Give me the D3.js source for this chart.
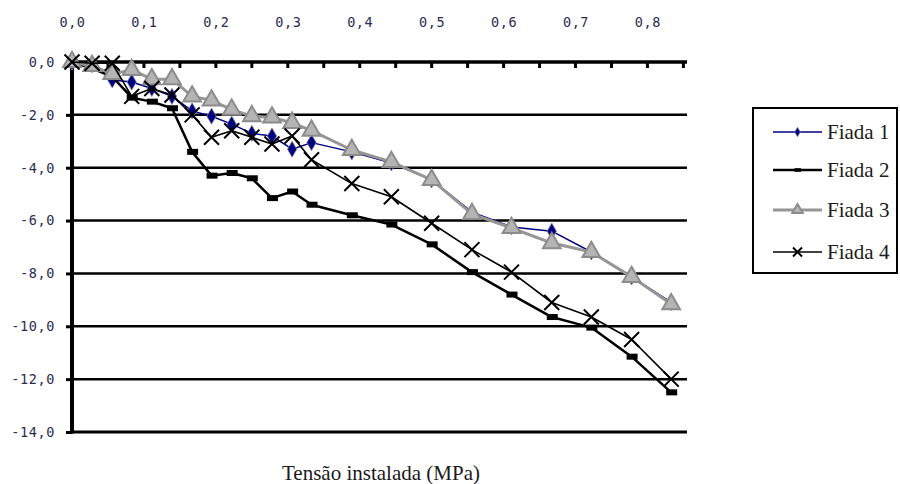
<!DOCTYPE html>
<html>
<head>
<meta charset="utf-8">
<script src="https://cdn.jsdelivr.net/npm/d3@7"></script>
<style>
  html, body { margin: 0; padding: 0; background: #fff; }
  svg { display: block; }
  .serif { font-family: 'Liberation Serif', 'DejaVu Serif', 'Times New Roman', serif; }
  .mono { font-family: 'DejaVu Sans Mono', 'Liberation Mono', monospace; }
</style>
</head>
<body>
<svg id="chart" width="900" height="484"></svg>
<script>
// ---- Data ----
const tensao = [0, 0.028, 0.056, 0.083, 0.111, 0.139, 0.167, 0.194, 0.222, 0.250, 0.278, 0.306, 0.333,
                0.389, 0.444, 0.500, 0.556, 0.611, 0.667, 0.722, 0.778, 0.833];
const fiada1 = [0, -0.1, -0.68, -0.76, -1.0, -1.3, -1.85, -2.05, -2.35, -2.7, -2.8, -3.3, -3.05,
                -3.4, -3.82, -4.46, -5.68, -6.24, -6.4, -7.19, -8.13, -9.1];
const fiada2 = [0, -0.25, -0.55, -1.35, -1.5, -1.75, -3.4, -4.3, -4.2, -4.4, -5.15, -4.9, -5.4,
                -5.8, -6.15, -6.9, -7.95, -8.8, -9.65, -10.05, -11.15, -12.5];
const fiada3 = [0, -0.15, -0.45, -0.3, -0.65, -0.65, -1.3, -1.45, -1.8, -2.05, -2.1, -2.3, -2.6,
                -3.33, -3.78, -4.46, -5.75, -6.28, -6.85, -7.19, -8.13, -9.16];
const fiada4 = [0, -0.05, -0.05, -1.3, -1.0, -1.25, -2.0, -2.85, -2.6, -2.85, -3.1, -2.8, -3.7,
                -4.6, -5.1, -6.1, -7.1, -7.95, -9.1, -9.65, -10.5, -12.0];
const seriesNames = ["Fiada 1", "Fiada 2", "Fiada 3", "Fiada 4"];
const xTickLabels = [0, 0.1, 0.2, 0.3, 0.4, 0.5, 0.6, 0.7, 0.8];
const xMinorTicks = [0.05, 0.1, 0.15, 0.2, 0.25, 0.3, 0.35, 0.4, 0.45, 0.5, 0.55, 0.6, 0.65, 0.7, 0.75, 0.8, 0.85];
const yTickValues = [0, -2, -4, -6, -8, -10, -12, -14];
const xTitle = "Tensão instalada (MPa)";

// ---- Setup ----
const svg = d3.select("#chart");
const x = d3.scaleLinear().domain([0, 0.855]).range([72, 687]);
const y = d3.scaleLinear().domain([-14, 0]).range([432, 62]);
const loc = d3.formatLocale({decimal: ",", thousands: ".", grouping: [3], currency: ["", ""], minus: "-"});
const fmt = loc.format(".1f");

// gridlines
svg.append("g").selectAll("line").data(yTickValues.filter(v => v !== 0 && v !== -14)).join("line")
  .attr("x1", x(0)).attr("x2", x(0.855))
  .attr("y1", d => y(d)).attr("y2", d => y(d))
  .attr("stroke", "#000").attr("stroke-width", 2.5);
svg.append("line").attr("x1", x(0)).attr("x2", x(0.855)).attr("y1", y(-14)).attr("y2", y(-14))
  .attr("stroke", "#000").attr("stroke-width", 3);

// top x axis
const xAxis = d3.axisTop(x).tickValues(xTickLabels).tickSize(0).tickPadding(0).tickFormat(fmt);
const gx = svg.append("g").attr("transform", `translate(0,${y(0)})`).call(xAxis);
gx.attr("font-family", null);
gx.select(".domain").remove();
gx.selectAll("text").attr("class", "mono").attr("y", -45).attr("dy", "0.71em")
  .attr("font-size", 13.5)
  .attr("fill", "#2c2c52").attr("letter-spacing", 0.6);
svg.append("g").selectAll("line").data(xMinorTicks).join("line")
  .attr("x1", d => x(d)).attr("x2", d => x(d))
  .attr("y1", y(0)).attr("y2", y(0) + 6)
  .attr("stroke", "#000").attr("stroke-width", 3);
svg.append("line").attr("x1", x(0) - 2).attr("x2", x(0.855)).attr("y1", y(0)).attr("y2", y(0))
  .attr("stroke", "#000").attr("stroke-width", 3.5);

// left y axis
const yAxis = d3.axisLeft(y).tickValues(yTickValues).tickSize(6).tickPadding(11).tickFormat(fmt);
const gy = svg.append("g").attr("transform", `translate(${x(0)},0)`).call(yAxis);
gy.attr("font-family", null);
gy.select(".domain").attr("stroke", "#000").attr("stroke-width", 4).attr("d", `M0,${y(0) - 1.5}V${y(-14) + 1.5}`);
gy.selectAll(".tick line").attr("stroke", "#000").attr("stroke-width", 3);
gy.selectAll("text").attr("class", "mono").attr("font-size", 13.5)
  .attr("fill", "#2c2c52").attr("letter-spacing", 0.6);

// ---- Series ----
const all = [fiada1, fiada2, fiada3, fiada4];
const styles = [
  {line: "#000080", lw: 1.5, marker: "diamond"},
  {line: "#000000", lw: 2.5, marker: "dash"},
  {line: "#969696", lw: 3, marker: "triangle"},
  {line: "#000000", lw: 1.6, marker: "x"}
];
const lineGen = d3.line().x(d => x(d[0])).y(d => y(d[1]));

function drawMarker(g, type, cx, cy, s) {
  if (type === "diamond") {
    g.append("path").attr("d", d3.symbol(d3.symbolDiamond, 75 * s * s)())
      .attr("transform", `translate(${cx},${cy})`)
      .attr("fill", "#000080").attr("stroke", "#8a8a9a").attr("stroke-width", 0.8);
  } else if (type === "dash") {
    g.append("rect").attr("x", cx - 5 * s).attr("y", cy - 3 * s).attr("width", 11 * s).attr("height", 6 * s)
      .attr("fill", "#000");
  } else if (type === "triangle") {
    g.append("path").attr("d", d3.symbol(d3.symbolTriangle, 135 * s * s)())
      .attr("transform", `translate(${cx},${cy})`)
      .attr("fill", "#b4b4b4").attr("stroke", "#8c8c8c").attr("stroke-width", 2);
  } else if (type === "x") {
    const r = 7.5 * s;
    g.append("path").attr("d", `M${cx - r},${cy - r}L${cx + r},${cy + r}M${cx - r},${cy + r}L${cx + r},${cy - r}`)
      .attr("stroke", "#000").attr("stroke-width", 2).attr("fill", "none");
  }
}

all.forEach((vals, i) => {
  const pts = tensao.map((t, j) => [t, vals[j]]);
  const g = svg.append("g");
  g.append("path").datum(pts).attr("d", lineGen)
    .attr("fill", "none").attr("stroke", styles[i].line).attr("stroke-width", styles[i].lw)
    .attr("stroke-linejoin", "round");
  pts.forEach(p => drawMarker(g, styles[i].marker, x(p[0]), y(p[1]), 1));
});

// ---- Legend ----
const lg = svg.append("g");
lg.append("rect").attr("x", 753).attr("y", 108).attr("width", 144).attr("height", 165)
  .attr("fill", "#fff").attr("stroke", "#000").attr("stroke-width", 2);
const legendY = [132, 170, 210, 252];
seriesNames.forEach((name, i) => {
  const ly = legendY[i];
  lg.append("line").attr("x1", 773).attr("x2", 822).attr("y1", ly).attr("y2", ly)
    .attr("stroke", styles[i].line).attr("stroke-width", styles[i].lw);
  drawMarker(lg, styles[i].marker, 797.5, ly, 0.6);
  lg.append("text").attr("class", "serif").attr("x", 827).attr("y", ly).attr("dy", "0.35em")
    .attr("font-size", 21).attr("fill", "#1a1a1a").text(name);
});

// ---- Axis title ----
svg.append("text").attr("class", "serif").attr("x", 381).attr("y", 480).attr("text-anchor", "middle")
  .attr("font-size", 21).attr("fill", "#1a1a1a").text(xTitle);
</script>
</body>
</html>
